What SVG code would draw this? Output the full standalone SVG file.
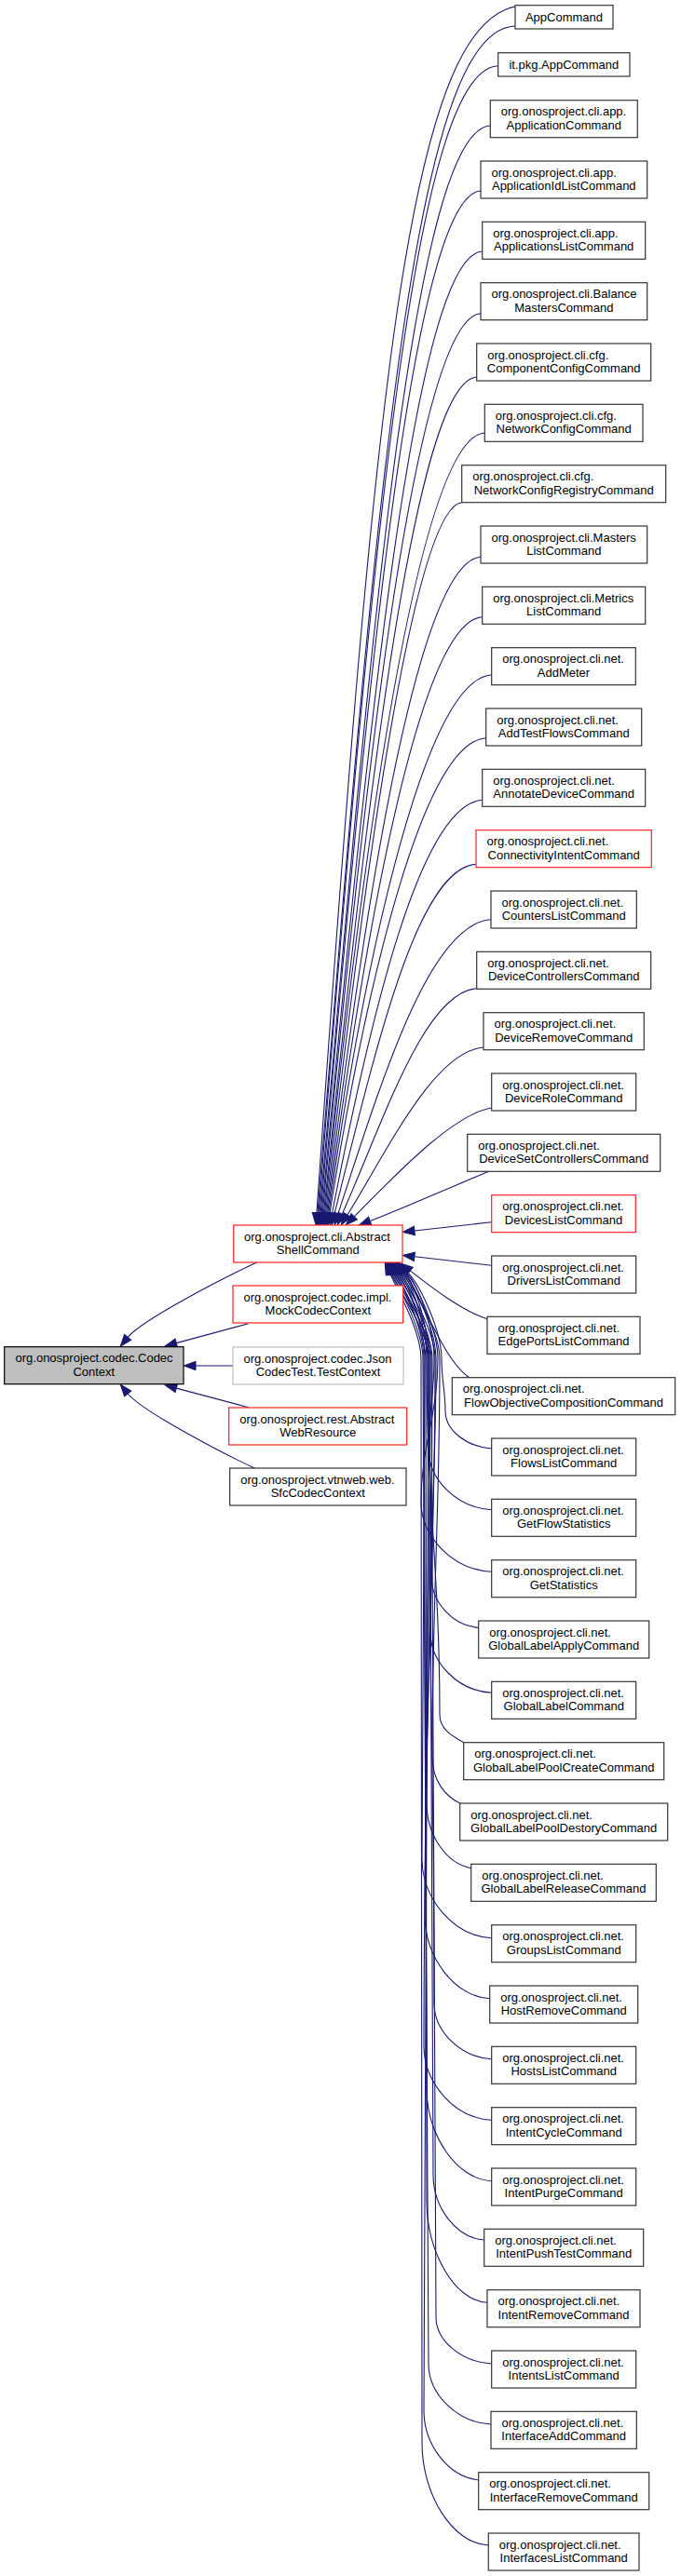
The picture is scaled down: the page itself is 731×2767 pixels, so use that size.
<svg xmlns="http://www.w3.org/2000/svg" width="731" height="2767" viewBox="0 0 731 2767">
<defs>
<marker id="ah" markerUnits="userSpaceOnUse" markerWidth="14" markerHeight="10" viewBox="0 0 14 10" refX="0" refY="5" orient="auto" overflow="visible">
<path d="M0,0.33 L12.6,5 L0,9.67 z" fill="#191970" stroke="#191970" stroke-width="1"/>
</marker>
<style>
text{font-family:"Liberation Sans",Arial,Helvetica,sans-serif;font-size:13px;fill:#000}
.c{text-anchor:middle}
.n rect{fill:#fff;stroke:#333;stroke-width:1.2}
.red rect{stroke:#ff2020}
.grey rect{stroke:#bfbfbf}
.root rect{fill:#bfbfbf;stroke:#000}
#edges path{fill:none;stroke:#191970;stroke-width:1.1;marker-end:url(#ah)}
</style>
</defs>
<rect width="731" height="2767" fill="#fff"/>
<g id="edges">
<path d="M275.7,1356 C245,1370 153,1417 137.2,1436.4"/>
<path d="M266.7,1421.7 L189.3,1442.6"/>
<path d="M250,1467 L210,1467"/>
<path d="M266.7,1511.7 L189.3,1491.1"/>
<path d="M273.3,1577 C243,1563 153,1516.4 137.2,1497"/>
<path d="M563.3,5.7 C440,8 403.3,397.2 339.9,1303"/>
<path d="M553,28 C452,31 409.1,438.7 341,1303"/>
<path d="M534.7,70.7 C448,74 402,541.4 342,1303"/>
<path d="M526.3,135 C446,139 399.1,663.4 343.1,1303"/>
<path d="M516,205 C444,209 394.9,723.2 344.1,1303"/>
<path d="M517.7,270 C446,274 396.6,768.6 345.2,1303.1"/>
<path d="M516,336.7 C447,341 392.5,822.3 346.2,1303.1"/>
<path d="M511.7,405 C446,409 394.3,856.6 347.4,1303.1"/>
<path d="M520.3,465 C452,469 392.2,886.4 348.4,1303.1"/>
<path d="M495.7,539.7 C445,545 392.6,924.5 349.5,1303.1"/>
<path d="M516,598.3 C450,603 393.5,953.7 350.6,1303.1"/>
<path d="M517.7,662.7 C452,667 393.5,985.9 351.7,1303.1"/>
<path d="M527.7,725 C458,729 393,1016.9 352.8,1303.1"/>
<path d="M521.7,792.7 C455,797 393.9,1051.3 354,1303.2"/>
<path d="M517.7,859.3 C452,864 398.9,1085.3 356.5,1303.2"/>
<path d="M511,928.3 C448,933 404.5,1121.5 359.1,1303.4"/>
<path d="M527,987.7 C462,992 411.8,1153.3 363,1303.6"/>
<path d="M511.7,1061.7 C455,1066 411.6,1204.5 367.3,1304.1"/>
<path d="M519,1125 C465,1130 415.8,1236.3 372.9,1305"/>
<path d="M527.7,1190 C485,1197 421.2,1265.8 380.2,1306.8"/>
<path d="M525,1258.3 C505,1266 425.4,1301.3 397.2,1311.6"/>
<path d="M527.7,1312.7 L444.9,1322"/>
<path d="M527.7,1359.3 L444.9,1349.8"/>
<path d="M523,1416.7 C495,1408 460,1380.2 440.3,1364.9"/>
<path d="M503.3,1479.3 C475,1460 449.6,1386.6 434.1,1367.1"/>
<path d="M527.7,1556 C500.4,1554 478,1536 478,1516 C478,1493.6 474,1482.4 474,1460 C474,1430 451.8,1380.8 436.2,1365.2"/>
<path d="M527.7,1621.7 C490.5,1619.7 460,1589.2 460,1556.7 C460,1518 466,1498.7 466,1460 C466,1430 450.5,1381.2 435.2,1365.4"/>
<path d="M527.7,1688.3 C486.1,1686.3 452,1650.8 452,1613.3 C452,1552 470,1521.3 470,1460 C470,1430 449.2,1381.7 434.2,1365.5"/>
<path d="M513.7,1748.3 C485.8,1746.3 463,1720.8 463,1693.3 C463,1600 460,1553.3 460,1460 C460,1430 448,1382.1 433.4,1365.7"/>
<path d="M527.7,1818.3 C491.6,1816.3 462,1785.8 462,1753.3 C462,1636 468,1577.3 468,1460 C468,1430 446.7,1382.6 432.4,1365.9"/>
<path d="M497.7,1871.7 C483.6,1863.7 472,1856.7 472,1841.7 C472,1689 458,1612.7 458,1460 C458,1430 445.4,1383 431.4,1366"/>
<path d="M493.7,1937 C477.4,1929 464,1912 464,1887 C464,1716.2 472,1630.8 472,1460 C472,1430 444,1383.5 430.4,1366.2"/>
<path d="M505.7,2006.7 C479.5,2001.7 458,1971.7 458,1936.7 C458,1746 462,1650.7 462,1460 C462,1430 442.7,1383.9 429.4,1366.4"/>
<path d="M527.7,2081.7 C486.6,2079.7 453,2039.2 453,1996.7 C453,1782 456,1674.7 456,1460 C456,1430 441.4,1384.3 428.5,1366.5"/>
<path d="M525.7,2146.7 C487.4,2144.7 456,2101.7 456,2056.7 C456,1818 467,1698.7 467,1460 C467,1430 440.1,1384.6 427.5,1366.6"/>
<path d="M527.7,2211.7 C493.8,2209.7 466,2181.7 466,2151.7 C466,1875 459,1736.7 459,1460 C459,1430 438.7,1385.1 426.5,1366.8"/>
<path d="M527.7,2277.3 C487.7,2275.3 455,2237.3 455,2197.3 C455,1902.4 464,1754.9 464,1460 C464,1430 437.4,1385.4 425.4,1366.9"/>
<path d="M527.7,2342.7 C489.4,2340.7 458,2292.7 458,2242.7 C458,1929.6 455,1773.1 455,1460 C455,1430 436,1385.8 424.4,1367.1"/>
<path d="M519.7,2406 C489.6,2404 465,2371 465,2336 C465,1985.6 461,1810.4 461,1460 C461,1430 434.7,1386.1 423.5,1367.2"/>
<path d="M523,2473.3 C487.3,2471.3 458,2418.3 458,2363.3 C458,2002 457,1821.3 457,1460 C457,1430 433.3,1386.5 422.5,1367.3"/>
<path d="M527.7,2539 C494.9,2537 468,2514 468,2489 C468,2077.4 463,1871.6 463,1460 C463,1430 431.9,1386.8 421.5,1367.4"/>
<path d="M527,2604 C490.2,2602 460,2571.5 460,2539 C460,2107.4 454,1891.6 454,1460 C454,1430 430.5,1387.2 420.4,1367.6"/>
<path d="M513.7,2664 C481.4,2660 455,2626.5 455,2589 C455,2137.4 460,1911.6 460,1460 C460,1430 429.2,1387.5 419.5,1367.7"/>
<path d="M524.3,2734 C485.1,2732 453,2679 453,2624 C453,2158.4 452,1925.6 452,1460 C452,1430 427.8,1387.7 418.5,1367.8"/>
</g>
<g id="node-codeccontext" class="n root"><rect x="4.7" y="1446.7" width="192.3" height="40"/><text x="16.5" y="1463.2">org.onosproject.codec.Codec</text><text class="c" x="100.8" y="1477.7">Context</text></g>
<g id="node-abstractshellcommand" class="n red"><rect x="250.7" y="1316" width="181.3" height="40"/><text x="262" y="1332.5">org.onosproject.cli.Abstract</text><text class="c" x="341.3" y="1347">ShellCommand</text></g>
<g id="node-mockcodeccontext" class="n red"><rect x="250" y="1381" width="182.7" height="40"/><text x="261.5" y="1397.5">org.onosproject.codec.impl.</text><text class="c" x="341.3" y="1412">MockCodecContext</text></g>
<g id="node-testcontext" class="n grey"><rect x="250" y="1447" width="183" height="40"/><text x="261.5" y="1463.5">org.onosproject.codec.Json</text><text class="c" x="341.5" y="1478">CodecTest.TestContext</text></g>
<g id="node-abstractwebresource" class="n red"><rect x="245.7" y="1512" width="191" height="40"/><text x="257.2" y="1528.5">org.onosproject.rest.Abstract</text><text class="c" x="341.2" y="1543">WebResource</text></g>
<g id="node-sfccodeccontext" class="n"><rect x="246.7" y="1577" width="189.3" height="40"/><text x="258.2" y="1593.5">org.onosproject.vtnweb.web.</text><text class="c" x="341.3" y="1608">SfcCodecContext</text></g>
<g id="node-appcommand" class="n"><rect x="553" y="5.7" width="105" height="25.3"/><text class="c" x="605.5" y="22.5">AppCommand</text></g>
<g id="node-itpkgappcommand" class="n"><rect x="534.7" y="56.7" width="141.3" height="25.3"/><text class="c" x="605.3" y="73.5">it.pkg.AppCommand</text></g>
<g id="node-applicationcommand" class="n"><rect x="526.3" y="107.7" width="158" height="40"/><text x="537.8" y="124.2">org.onosproject.cli.app.</text><text class="c" x="605.3" y="138.7">ApplicationCommand</text></g>
<g id="node-applicationidlistcommand" class="n"><rect x="516" y="173" width="178.7" height="40"/><text x="527.5" y="189.5">org.onosproject.cli.app.</text><text class="c" x="605.3" y="204">ApplicationIdListCommand</text></g>
<g id="node-applicationslistcommand" class="n"><rect x="517.7" y="238.3" width="175" height="40"/><text x="529.2" y="254.8">org.onosproject.cli.app.</text><text class="c" x="605.2" y="269.3">ApplicationsListCommand</text></g>
<g id="node-balancemasterscommand" class="n"><rect x="516" y="303.7" width="178.7" height="40"/><text x="527.5" y="320.2">org.onosproject.cli.Balance</text><text class="c" x="605.3" y="334.7">MastersCommand</text></g>
<g id="node-componentconfigcommand" class="n"><rect x="511.7" y="369" width="187" height="40"/><text x="523.2" y="385.5">org.onosproject.cli.cfg.</text><text class="c" x="605.2" y="400">ComponentConfigCommand</text></g>
<g id="node-networkconfigcommand" class="n"><rect x="520.3" y="434.3" width="169.7" height="40"/><text x="531.8" y="450.8">org.onosproject.cli.cfg.</text><text class="c" x="605.2" y="465.3">NetworkConfigCommand</text></g>
<g id="node-networkconfigregistrycommand" class="n"><rect x="495.7" y="499.7" width="219" height="40"/><text x="507.2" y="516.2">org.onosproject.cli.cfg.</text><text class="c" x="605.2" y="530.7">NetworkConfigRegistryCommand</text></g>
<g id="node-masterslistcommand" class="n"><rect x="516" y="565" width="178.7" height="40"/><text x="527.5" y="581.5">org.onosproject.cli.Masters</text><text class="c" x="605.3" y="596">ListCommand</text></g>
<g id="node-metricslistcommand" class="n"><rect x="517.7" y="630.3" width="175" height="40"/><text x="529.2" y="646.8">org.onosproject.cli.Metrics</text><text class="c" x="605.2" y="661.3">ListCommand</text></g>
<g id="node-addmeter" class="n"><rect x="527.7" y="695.7" width="154.6" height="40"/><text x="539.2" y="712.2">org.onosproject.cli.net.</text><text class="c" x="605" y="726.7">AddMeter</text></g>
<g id="node-addtestflowscommand" class="n"><rect x="521.7" y="761" width="167" height="40"/><text x="533.2" y="777.5">org.onosproject.cli.net.</text><text class="c" x="605.2" y="792">AddTestFlowsCommand</text></g>
<g id="node-annotatedevicecommand" class="n"><rect x="517.7" y="826.3" width="175" height="40"/><text x="529.2" y="842.8">org.onosproject.cli.net.</text><text class="c" x="605.2" y="857.3">AnnotateDeviceCommand</text></g>
<g id="node-connectivityintentcommand" class="n red"><rect x="511" y="891.7" width="188.3" height="40"/><text x="522.5" y="908.2">org.onosproject.cli.net.</text><text class="c" x="605.2" y="922.7">ConnectivityIntentCommand</text></g>
<g id="node-counterslistcommand" class="n"><rect x="527" y="957" width="156.3" height="40"/><text x="538.5" y="973.5">org.onosproject.cli.net.</text><text class="c" x="605.2" y="988">CountersListCommand</text></g>
<g id="node-devicecontrollerscommand" class="n"><rect x="511.7" y="1022.3" width="187" height="40"/><text x="523.2" y="1038.8">org.onosproject.cli.net.</text><text class="c" x="605.2" y="1053.3">DeviceControllersCommand</text></g>
<g id="node-deviceremovecommand" class="n"><rect x="519" y="1087.7" width="172.3" height="40"/><text x="530.5" y="1104.2">org.onosproject.cli.net.</text><text class="c" x="605.2" y="1118.7">DeviceRemoveCommand</text></g>
<g id="node-devicerolecommand" class="n"><rect x="527.7" y="1153" width="155" height="40"/><text x="539.2" y="1169.5">org.onosproject.cli.net.</text><text class="c" x="605.2" y="1184">DeviceRoleCommand</text></g>
<g id="node-devicesetcontrollerscommand" class="n"><rect x="501.7" y="1218.3" width="207" height="40"/><text x="513.2" y="1234.8">org.onosproject.cli.net.</text><text class="c" x="605.2" y="1249.3">DeviceSetControllersCommand</text></g>
<g id="node-deviceslistcommand" class="n red"><rect x="527.7" y="1283.7" width="154.6" height="40"/><text x="539.2" y="1300.2">org.onosproject.cli.net.</text><text class="c" x="605" y="1314.7">DevicesListCommand</text></g>
<g id="node-driverslistcommand" class="n"><rect x="527.7" y="1349" width="155" height="40"/><text x="539.2" y="1365.5">org.onosproject.cli.net.</text><text class="c" x="605.2" y="1380">DriversListCommand</text></g>
<g id="node-edgeportslistcommand" class="n"><rect x="523" y="1414.3" width="164" height="40"/><text x="534.5" y="1430.8">org.onosproject.cli.net.</text><text class="c" x="605" y="1445.3">EdgePortsListCommand</text></g>
<g id="node-flowobjectivecompositioncommand" class="n"><rect x="485.3" y="1479.7" width="239.4" height="40"/><text x="496.8" y="1496.2">org.onosproject.cli.net.</text><text class="c" x="605" y="1510.7">FlowObjectiveCompositionCommand</text></g>
<g id="node-flowslistcommand" class="n"><rect x="527.7" y="1545" width="155" height="40"/><text x="539.2" y="1561.5">org.onosproject.cli.net.</text><text class="c" x="605.2" y="1576">FlowsListCommand</text></g>
<g id="node-getflowstatistics" class="n"><rect x="527.7" y="1610.3" width="155" height="40"/><text x="539.2" y="1626.8">org.onosproject.cli.net.</text><text class="c" x="605.2" y="1641.3">GetFlowStatistics</text></g>
<g id="node-getstatistics" class="n"><rect x="527.7" y="1675.7" width="155" height="40"/><text x="539.2" y="1692.2">org.onosproject.cli.net.</text><text class="c" x="605.2" y="1706.7">GetStatistics</text></g>
<g id="node-globallabelapplycommand" class="n"><rect x="513.7" y="1741" width="183" height="40"/><text x="525.2" y="1757.5">org.onosproject.cli.net.</text><text class="c" x="605.2" y="1772">GlobalLabelApplyCommand</text></g>
<g id="node-globallabelcommand" class="n"><rect x="527.7" y="1806.3" width="155" height="40"/><text x="539.2" y="1822.8">org.onosproject.cli.net.</text><text class="c" x="605.2" y="1837.3">GlobalLabelCommand</text></g>
<g id="node-globallabelpoolcreatecommand" class="n"><rect x="497.7" y="1871.7" width="215" height="40"/><text x="509.2" y="1888.2">org.onosproject.cli.net.</text><text class="c" x="605.2" y="1902.7">GlobalLabelPoolCreateCommand</text></g>
<g id="node-globallabelpooldestorycommand" class="n"><rect x="493.7" y="1937" width="223" height="40"/><text x="505.2" y="1953.5">org.onosproject.cli.net.</text><text class="c" x="605.2" y="1968">GlobalLabelPoolDestoryCommand</text></g>
<g id="node-globallabelreleasecommand" class="n"><rect x="505.7" y="2002.3" width="198.6" height="40"/><text x="517.2" y="2018.8">org.onosproject.cli.net.</text><text class="c" x="605" y="2033.3">GlobalLabelReleaseCommand</text></g>
<g id="node-groupslistcommand" class="n"><rect x="527.7" y="2067.7" width="155" height="40"/><text x="539.2" y="2084.2">org.onosproject.cli.net.</text><text class="c" x="605.2" y="2098.7">GroupsListCommand</text></g>
<g id="node-hostremovecommand" class="n"><rect x="525.7" y="2133" width="159" height="40"/><text x="537.2" y="2149.5">org.onosproject.cli.net.</text><text class="c" x="605.2" y="2164">HostRemoveCommand</text></g>
<g id="node-hostslistcommand" class="n"><rect x="527.7" y="2198.3" width="155" height="40"/><text x="539.2" y="2214.8">org.onosproject.cli.net.</text><text class="c" x="605.2" y="2229.3">HostsListCommand</text></g>
<g id="node-intentcyclecommand" class="n"><rect x="527.7" y="2263.7" width="155" height="40"/><text x="539.2" y="2280.2">org.onosproject.cli.net.</text><text class="c" x="605.2" y="2294.7">IntentCycleCommand</text></g>
<g id="node-intentpurgecommand" class="n"><rect x="527.7" y="2329" width="155" height="40"/><text x="539.2" y="2345.5">org.onosproject.cli.net.</text><text class="c" x="605.2" y="2360">IntentPurgeCommand</text></g>
<g id="node-intentpushtestcommand" class="n"><rect x="519.7" y="2394.3" width="171" height="40"/><text x="531.2" y="2410.8">org.onosproject.cli.net.</text><text class="c" x="605.2" y="2425.3">IntentPushTestCommand</text></g>
<g id="node-intentremovecommand" class="n"><rect x="523" y="2459.7" width="164" height="40"/><text x="534.5" y="2476.2">org.onosproject.cli.net.</text><text class="c" x="605" y="2490.7">IntentRemoveCommand</text></g>
<g id="node-intentslistcommand" class="n"><rect x="527.7" y="2525" width="155" height="40"/><text x="539.2" y="2541.5">org.onosproject.cli.net.</text><text class="c" x="605.2" y="2556">IntentsListCommand</text></g>
<g id="node-interfaceaddcommand" class="n"><rect x="527" y="2590.3" width="156.3" height="40"/><text x="538.5" y="2606.8">org.onosproject.cli.net.</text><text class="c" x="605.2" y="2621.3">InterfaceAddCommand</text></g>
<g id="node-interfaceremovecommand" class="n"><rect x="513.7" y="2655.7" width="183" height="40"/><text x="525.2" y="2672.2">org.onosproject.cli.net.</text><text class="c" x="605.2" y="2686.7">InterfaceRemoveCommand</text></g>
<g id="node-interfaceslistcommand" class="n"><rect x="524.3" y="2721" width="161.7" height="40"/><text x="535.8" y="2737.5">org.onosproject.cli.net.</text><text class="c" x="605.2" y="2752">InterfacesListCommand</text></g>
</svg>
